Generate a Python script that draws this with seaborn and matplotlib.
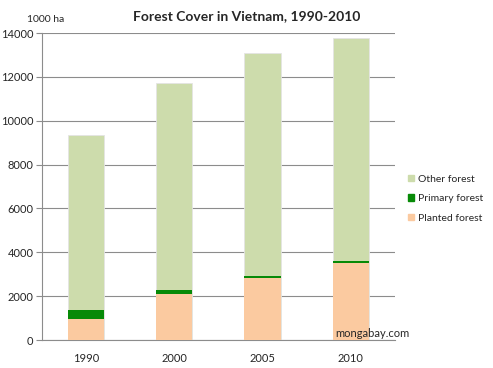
import matplotlib
matplotlib.use("Agg")
import matplotlib.pyplot as plt
import seaborn as sns
import pandas as pd
import numpy as np
from matplotlib.patches import Patch

years = ["1990", "2000", "2005", "2010"]
planted = [970, 2080, 2810, 3520]
primary = [380, 180, 110, 80]
other = [8013, 9465, 10157, 10197]
yticks = [0, 2000, 4000, 6000, 8000, 10000, 12000, 14000]

colors = {"Other forest": "#cddcac", "Primary forest": "#078a07", "Planted forest": "#fbcaa0"}

sns.set_style("white")
plt.rcParams["font.family"] = ["Lato", "DejaVu Sans"]

df = pd.DataFrame({"year": years, "planted": planted, "primary": primary, "other": other})
df["cum_primary"] = df["planted"] + df["primary"]
df["cum_other"] = df["cum_primary"] + df["other"]

fig = plt.figure(figsize=(4.93, 3.68), dpi=100)
ax = fig.add_axes([0.085, 0.076, 0.716, 0.834])
ax.set_axisbelow(True)
for ytk in yticks:
    ax.axhline(ytk, color="#8c8c8c", lw=0.8, zorder=0)

bw = 0.41
sns.barplot(data=df, x="year", y="cum_other", color=colors["Other forest"], width=bw,
            saturation=1, ax=ax, edgecolor="#e4e4e4", linewidth=0.6, zorder=2)
sns.barplot(data=df, x="year", y="cum_primary", color=colors["Primary forest"], width=bw,
            saturation=1, ax=ax, linewidth=0, zorder=3)
sns.barplot(data=df, x="year", y="planted", color=colors["Planted forest"], width=bw,
            saturation=1, ax=ax, linewidth=0, zorder=4)

ax.set_xlim(-0.5, 3.5)
ax.set_ylim(0, 14000)
ax.set_yticks(yticks)
ax.set_yticklabels([str(v) for v in yticks], fontsize=8)
ax.set_xticks(range(len(years)))
ax.set_xticklabels(years, fontsize=8)
ax.set_xticks(np.arange(-0.5, 4, 1), minor=True)
ax.tick_params(axis="x", which="major", length=0, pad=9)
ax.tick_params(axis="x", which="minor", length=4, color="#8c8c8c", direction="out")
ax.tick_params(axis="y", length=4, color="#8c8c8c", direction="out", pad=2, left=True)
ax.set_xlabel("")
ax.set_ylabel("")
for s in ["top", "right"]:
    ax.spines[s].set_visible(False)
for s in ["left", "bottom"]:
    ax.spines[s].set_color("#8c8c8c")
    ax.spines[s].set_linewidth(0.8)

fig.text(0.5, 0.955, "Forest Cover in Vietnam, 1990-2010", ha="center", va="center",
         fontsize=10, fontweight="bold")
fig.text(0.055, 0.948, "1000 ha", ha="left", va="center", fontsize=7.5)
fig.text(0.68, 0.095, "mongabay.com", ha="left", va="center", fontsize=8)

handles = [Patch(color=colors[k]) for k in ["Other forest", "Primary forest", "Planted forest"]]
fig.legend(handles, ["Other forest", "Primary forest", "Planted forest"], loc="center left",
           bbox_to_anchor=(0.828, 0.46), frameon=False, fontsize=7.5, handlelength=0.6,
           handleheight=0.6, handletextpad=0.35, labelspacing=1.0, borderaxespad=0,
           borderpad=0)

fig.savefig("out.png", dpi=100)
